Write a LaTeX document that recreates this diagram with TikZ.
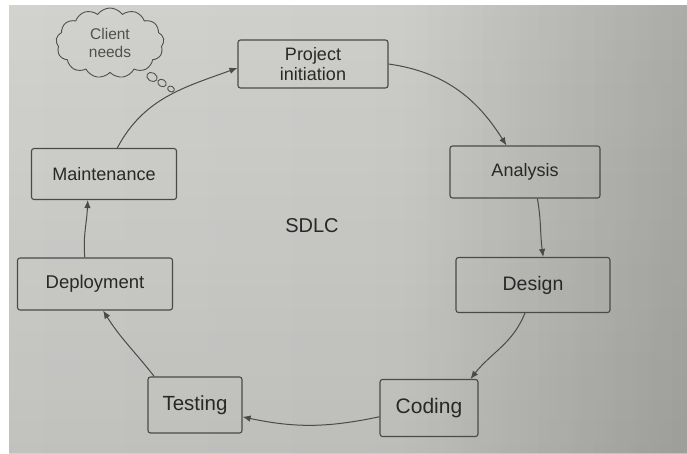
\documentclass[tikz,border=0pt]{standalone}
\usepackage{fontspec}
\setmainfont{Liberation Sans}
\usetikzlibrary{arrows.meta,shapes.symbols,shapes.geometric,fadings}

\definecolor{pL}{HTML}{D6D6D3}
\definecolor{pM}{HTML}{CDCDC9}
\definecolor{pR1}{HTML}{BBBCB7}
\definecolor{pR}{HTML}{9FA19C}
\definecolor{edge}{HTML}{4A4A48}
\definecolor{ink}{HTML}{282828}
\definecolor{soft}{HTML}{505050}

\pgfdeclarehorizontalshading{paper}{100bp}{color(0bp)=(pL); color(55bp)=(pM); color(80bp)=(pR1); color(100bp)=(pR)}

\begin{document}
\begin{tikzpicture}[x=1pt,y=1pt,
  stage/.style={draw=edge, line width=1.1pt, rounded corners=2.5pt,
    align=center, text=ink, inner sep=0pt,
    font=\fontsize{18}{20}\selectfont},
  flow/.style={draw=edge, line width=1pt,
    -{Latex[length=8pt,width=6.5pt]}},
  bubble/.style={draw=soft, line width=0.9pt, ellipse, inner sep=0pt}]

% page
\useasboundingbox (0,-453) rectangle (687,0);
\fill[white] (0,-453) rectangle (687,0);
\shade[shading=paper] (9,-453) rectangle (687,-5);
\fill[black, opacity=0.08, path fading=north] (9,-453) rectangle (687,-5);
\fill[black, opacity=0.10, path fading=west] (400,-453) rectangle (687,-5);

% lifecycle stages
\node[stage, minimum width=150pt, minimum height=48pt] (proj) at (313,-64) {Project\\initiation};
\node[stage, minimum width=150pt, minimum height=52pt] (anal) at (525,-172) {Analysis};
\node[stage, minimum width=154pt, minimum height=55pt, font=\fontsize{19.5}{22}\selectfont] (des) at (533,-285) {Design};
\node[stage, minimum width=98pt, minimum height=57pt, font=\fontsize{21}{24}\selectfont] (cod) at (429,-408) {Coding};
\node[stage, minimum width=94pt, minimum height=56pt, font=\fontsize{20.5}{24}\selectfont] (test) at (195,-405) {Testing};
\node[stage, minimum width=155pt, minimum height=52pt, font=\fontsize{18.5}{21}\selectfont] (dep) at (95,-284) {Deployment};
\node[stage, minimum width=145pt, minimum height=51pt] (maint) at (104,-174) {Maintenance};

\node[text=ink, font=\fontsize{20}{22}\selectfont] (sdlc) at (312,-226) {SDLC};

% thought cloud
\node[cloud, cloud puffs=13, cloud puff arc=110, aspect=1.6,
  draw=soft, line width=0.9pt, minimum width=108pt, minimum height=70pt,
  inner sep=0pt, align=center, text=soft,
  font=\fontsize{15.5}{18}\selectfont] (cloud) at (110,-43) {Client\\needs};
\node[bubble, minimum width=11pt, minimum height=8.5pt, rotate=-30] (b1) at (152,-77) {};
\node[bubble, minimum width=9pt, minimum height=7pt, rotate=-30] (b2) at (162,-83) {};
\node[bubble, minimum width=7pt, minimum height=5.5pt, rotate=-30] (b3) at (171,-89) {};

% cycle
\draw[flow] (maint.63) to[out=62, in=200] (proj.183);
\draw[flow] (proj.east) to[out=-8, in=122] (anal.125);
\draw[flow] (anal.-65) to[out=-80, in=98] (des.70);
\draw[flow] (des.-106) to[out=-112, in=52] (cod.35);
\draw[flow] (cod.190) to[out=192, in=-12] (test.-14);
\draw[flow] (test.145) to[out=128, in=-58] (dep.-73);
\draw[flow] (dep.111) to[out=95, in=-92] (maint.-122);
\end{tikzpicture}
\end{document}
